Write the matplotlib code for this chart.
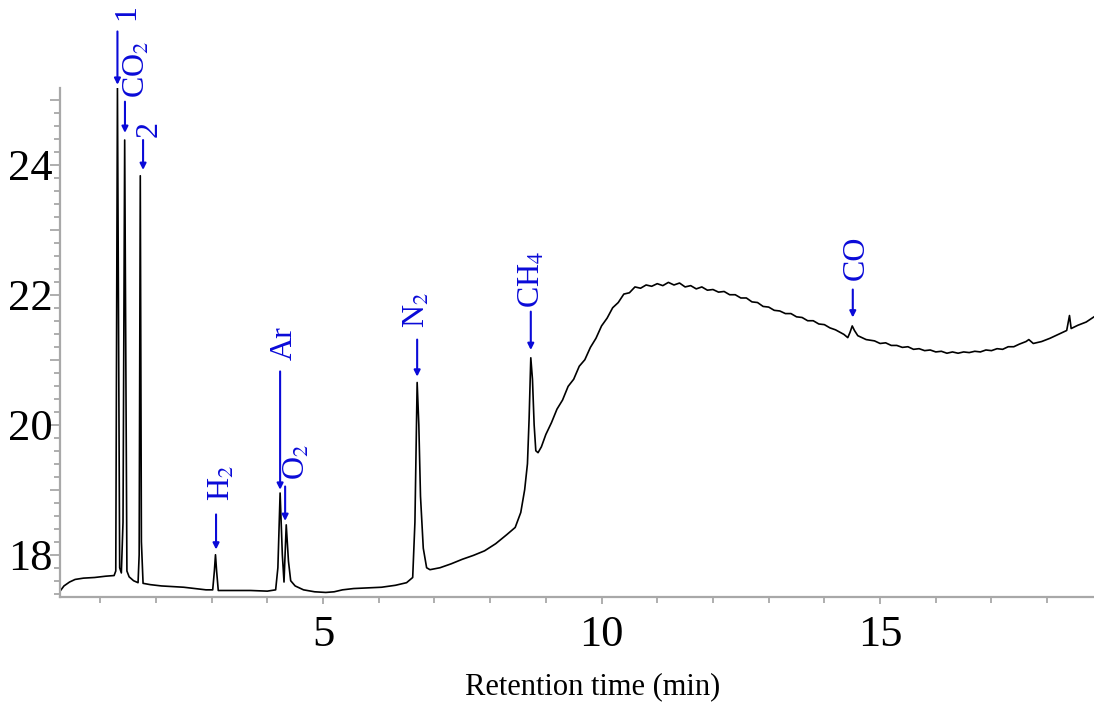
import matplotlib
matplotlib.use("Agg")
import matplotlib.pyplot as plt
from matplotlib.ticker import MultipleLocator, FuncFormatter

# chromatogram trace (min, signal)
time = [0.28, 0.35, 0.45, 0.55, 0.70, 0.90, 1.10, 1.25, 1.28, 1.31, 1.35, 1.38,
        1.41, 1.44, 1.48, 1.52, 1.60, 1.68, 1.70, 1.72, 1.74, 1.77, 1.90, 2.10,
        2.30, 2.50, 2.70, 2.90, 3.02, 3.05, 3.07, 3.09, 3.12, 3.40, 3.70, 4.00,
        4.15, 4.19, 4.23, 4.27, 4.30, 4.34, 4.38, 4.42, 4.50, 4.65, 4.85, 5.05,
        5.20, 5.35, 5.55, 5.80, 6.05, 6.30, 6.50, 6.61, 6.65, 6.69, 6.72, 6.75,
        6.80, 6.86, 6.92, 7.10, 7.30, 7.50, 7.70, 7.90, 8.10, 8.30, 8.45, 8.55,
        8.62, 8.67, 8.70, 8.73, 8.76, 8.79, 8.82, 8.86, 8.92, 9.00, 9.10, 9.20,
        9.30, 9.40, 9.50, 9.60, 9.70, 9.80, 9.90, 10.00, 10.10, 10.20, 10.30,
        10.40, 10.50, 10.60, 10.70, 10.80, 10.90, 11.00, 11.10, 11.20, 11.30,
        11.40, 11.50, 11.60, 11.70, 11.80, 11.90, 12.00, 12.10, 12.20, 12.30,
        12.40, 12.50, 12.60, 12.70, 12.80, 12.90, 13.00, 13.10, 13.20, 13.30,
        13.40, 13.50, 13.60, 13.70, 13.80, 13.90, 14.00, 14.10, 14.20, 14.35,
        14.42, 14.46, 14.50, 14.54, 14.60, 14.75, 14.90, 15.00, 15.10, 15.20,
        15.30, 15.40, 15.50, 15.60, 15.70, 15.80, 15.90, 16.00, 16.10, 16.20,
        16.30, 16.40, 16.50, 16.60, 16.70, 16.80, 16.90, 17.00, 17.10, 17.20,
        17.30, 17.40, 17.50, 17.62, 17.67, 17.75, 17.90, 18.05, 18.20, 18.35,
        18.40, 18.43, 18.55, 18.70, 18.84]
signal = [17.44, 17.52, 17.58, 17.62, 17.64, 17.65, 17.67, 17.68, 17.75, 25.18, 17.80, 17.72,
          18.50, 24.38, 17.75, 17.66, 17.60, 17.57, 18.00, 23.83, 18.20, 17.56, 17.54, 17.52,
          17.51, 17.50, 17.48, 17.46, 17.46, 17.75, 18.00, 17.75, 17.45, 17.45, 17.45, 17.44,
          17.46, 17.80, 18.95, 18.00, 17.58, 18.46, 17.90, 17.60, 17.52, 17.46, 17.43, 17.42,
          17.43, 17.46, 17.48, 17.49, 17.50, 17.53, 17.57, 17.65, 18.50, 20.65, 20.00, 18.90,
          18.10, 17.80, 17.77, 17.80, 17.86, 17.93, 17.99, 18.06, 18.17, 18.31, 18.42, 18.65,
          19.00, 19.40, 20.10, 21.03, 20.70, 20.00, 19.60, 19.57, 19.66, 19.85, 20.03, 20.24,
          20.38, 20.59, 20.70, 20.90, 21.00, 21.19, 21.33, 21.52, 21.64, 21.80, 21.88,
          22.01, 22.03, 22.12, 22.10, 22.15, 22.13, 22.17, 22.14, 22.19, 22.15,
          22.18, 22.12, 22.14, 22.09, 22.12, 22.07, 22.08, 22.04, 22.05, 22.00,
          22.00, 21.95, 21.95, 21.89, 21.88, 21.82, 21.81, 21.76, 21.75, 21.71,
          21.71, 21.66, 21.65, 21.60, 21.60, 21.55, 21.54, 21.49, 21.46, 21.39,
          21.34, 21.42, 21.52, 21.45, 21.37, 21.31, 21.29, 21.25, 21.26, 21.22,
          21.22, 21.19, 21.20, 21.16, 21.17, 21.14, 21.15, 21.12, 21.13, 21.10,
          21.12, 21.10, 21.12, 21.11, 21.13, 21.12, 21.15, 21.14, 21.17, 21.16,
          21.20, 21.20, 21.24, 21.28, 21.31, 21.25, 21.28, 21.33, 21.39, 21.45,
          21.68, 21.48, 21.53, 21.58, 21.66]

# peak labels
labels = ["1", r"CO$_2$", "2", r"H$_2$", "Ar", r"O$_2$", r"N$_2$", r"CH$_4$", "CO"]
label_time = [1.31, 1.445, 1.77, 3.08, 4.23, 4.32, 6.69, 8.73, 14.51]
arrow_tip = [25.23, 24.49, 23.92, 18.08, 19.00, 18.52, 20.74, 21.15, 21.65]
line_top = [26.05, 24.97, 24.38, 18.62, 20.82, 19.05, 21.31, 21.74, 22.08]
text_x = [1.21, 1.41, 1.62, 2.92, 4.05, 4.28, 6.42, 8.50, 14.32]
text_y = [26.23, 25.03, 24.42, 18.82, 21.00, 19.15, 21.49, 21.80, 22.23]

plt.rcParams['font.family'] = ['Liberation Serif', 'DejaVu Serif']
plt.rcParams['mathtext.fontset'] = 'stix'

fig = plt.figure(figsize=(10.94, 7.07), dpi=100)
ax = fig.add_axes([0.0548, 0.1556, 0.9452, 0.7199])

ax.plot(time, signal, color='black', lw=1.2)

ax.set_xlim(0.278, 18.84)
ax.set_ylim(17.35, 25.18)

blue = '#0a0ad8'
for lab, t, tip, top, tx, ty in zip(labels, label_time, arrow_tip, line_top, text_x, text_y):
    ax.annotate('', xy=(t, tip), xytext=(t, top), annotation_clip=False,
                arrowprops=dict(arrowstyle='-|>', color=blue, lw=1.5,
                                mutation_scale=9, shrinkA=0, shrinkB=0))
    ax.text(tx, ty, lab, rotation=90, ha='left', va='bottom', color=blue,
            fontsize=23, clip_on=False)

# axes styling
for side in ['top', 'right']:
    ax.spines[side].set_visible(False)
grey = '#a8a8a8'
for side in ['left', 'bottom']:
    ax.spines[side].set_color(grey)
    ax.spines[side].set_linewidth(1.6)

ax.xaxis.set_major_locator(MultipleLocator(5))
ax.xaxis.set_minor_locator(MultipleLocator(1))
ax.yaxis.set_major_locator(MultipleLocator(1))
ax.yaxis.set_minor_locator(MultipleLocator(0.2))
ax.yaxis.set_major_formatter(FuncFormatter(lambda v, p: f"{int(round(v))}" if round(v) % 2 == 0 else ""))

ax.tick_params(axis='x', which='major', length=5, width=1.3, color=grey, labelsize=32, pad=8)
ax.tick_params(axis='x', which='minor', length=4, width=1.3, color=grey)
ax.tick_params(axis='y', which='major', length=7, width=1.3, color=grey, labelsize=32, pad=-1.5)
ax.tick_params(axis='y', which='minor', length=4, width=1.3, color=grey)

ax.set_xlabel("Retention time (min)", fontsize=22)
ax.xaxis.set_label_coords(0.515, -0.148)

fig.savefig("out.png", dpi=100)
